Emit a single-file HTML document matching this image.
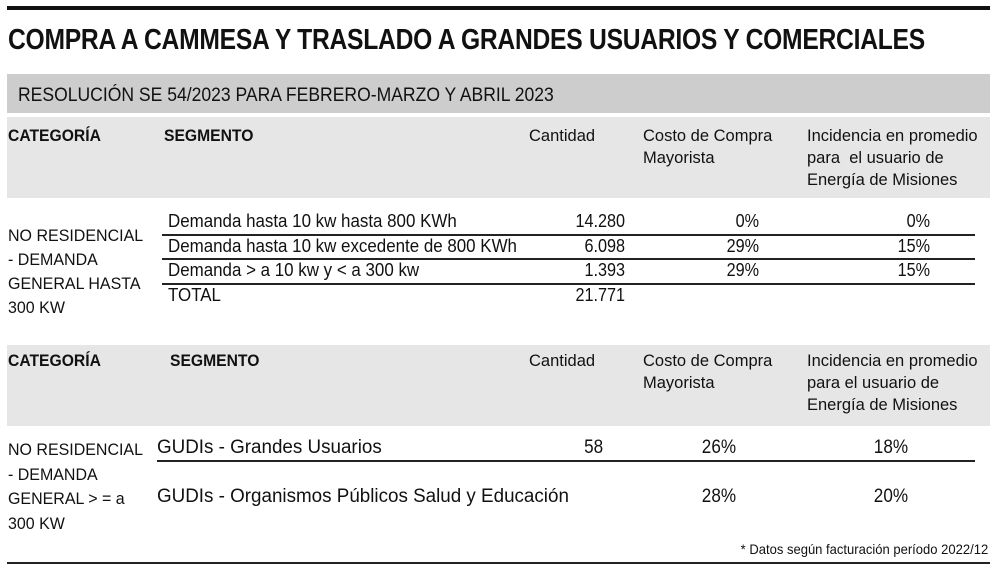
<!DOCTYPE html>
<html><head><meta charset="utf-8"><style>
body{margin:0;width:1000px;height:570px;background:#fff;position:relative;overflow:hidden;font-family:"Liberation Sans",sans-serif;color:#111}
.a{position:absolute;white-space:nowrap}
.c{transform-origin:0 0;}
.r{transform-origin:100% 0;text-align:right}
.b{font-weight:bold}
.ln{position:absolute;height:1.5px;background:#222}
.hdr{font-size:16.5px;line-height:22px}
.cell{font-size:18px}
</style></head><body>
<div class="a" style="left:7px;top:6px;width:983px;height:4px;background:#111"></div>
<div class="a b c" style="left:8px;top:24px;font-size:29px;transform:scaleX(0.85);letter-spacing:-0.3px">COMPRA A CAMMESA Y TRASLADO A GRANDES USUARIOS Y COMERCIALES</div>
<div class="a" style="left:7px;top:74px;width:983px;height:39px;background:#cdcdcd"></div>
<div class="a c" style="left:18px;top:84px;font-size:19.5px;transform:scaleX(0.9)">RESOLUCIÓN SE 54/2023 PARA FEBRERO-MARZO Y ABRIL 2023</div>
<div class="a" style="left:7px;top:117px;width:983px;height:81px;background:#e6e6e6"></div>
<div class="a" style="left:7px;top:345px;width:983px;height:81px;background:#e6e6e6"></div>

<div class="a b hdr c" style="left:8px;top:125px;transform:scaleX(0.95)">CATEGORÍA</div>
<div class="a b hdr c" style="left:164px;top:125px;transform:scaleX(0.95)">SEGMENTO</div>
<div class="a hdr" style="left:529px;top:125px">Cantidad</div>
<div class="a hdr" style="left:643px;top:125px">Costo de Compra<br>Mayorista</div>
<div class="a hdr" style="left:807px;top:125px">Incidencia en promedio<br>para &nbsp;el usuario de<br>Energía de Misiones</div>

<div class="a" style="left:8px;top:224px;font-size:16.5px;line-height:24px;transform:scaleX(0.97);transform-origin:0 0">NO RESIDENCIAL<br>- DEMANDA<br>GENERAL HASTA<br>300 KW</div>

<div class="a cell c" style="left:168px;top:211px;transform:scaleX(0.94)">Demanda hasta 10 kw hasta 800 KWh</div>
<div class="a cell c" style="left:168px;top:236px;transform:scaleX(0.94)">Demanda hasta 10 kw excedente de 800 KWh</div>
<div class="a cell c" style="left:168px;top:260px;transform:scaleX(0.94)">Demanda &gt; a 10 kw y &lt; a 300 kw</div>
<div class="a cell c" style="left:168px;top:285px;transform:scaleX(0.94)">TOTAL</div>
<div class="a cell r" style="right:375px;top:211px;transform:scaleX(0.9)">14.280</div>
<div class="a cell r" style="right:375px;top:236px;transform:scaleX(0.9)">6.098</div>
<div class="a cell r" style="right:375px;top:260px;transform:scaleX(0.9)">1.393</div>
<div class="a cell r" style="right:375px;top:285px;transform:scaleX(0.9)">21.771</div>
<div class="a cell r" style="right:241px;top:211px;transform:scaleX(0.9)">0%</div>
<div class="a cell r" style="right:241px;top:236px;transform:scaleX(0.9)">29%</div>
<div class="a cell r" style="right:241px;top:260px;transform:scaleX(0.9)">29%</div>
<div class="a cell r" style="right:70px;top:211px;transform:scaleX(0.9)">0%</div>
<div class="a cell r" style="right:70px;top:236px;transform:scaleX(0.9)">15%</div>
<div class="a cell r" style="right:70px;top:260px;transform:scaleX(0.9)">15%</div>
<div class="ln" style="left:162px;top:234px;width:813px"></div>
<div class="ln" style="left:162px;top:258px;width:813px"></div>
<div class="ln" style="left:162px;top:283px;width:813px"></div>

<div class="a b hdr c" style="left:8px;top:350px;transform:scaleX(0.95)">CATEGORÍA</div>
<div class="a b hdr c" style="left:170px;top:350px;transform:scaleX(0.95)">SEGMENTO</div>
<div class="a hdr" style="left:529px;top:350px">Cantidad</div>
<div class="a hdr" style="left:643px;top:350px">Costo de Compra<br>Mayorista</div>
<div class="a hdr" style="left:807px;top:350px">Incidencia en promedio<br>para el usuario de<br>Energía de Misiones</div>

<div class="a c" style="left:8px;top:438px;font-size:17px;line-height:24.5px;transform:scaleX(0.94)">NO RESIDENCIAL<br>- DEMANDA<br>GENERAL &gt; = a<br>300 KW</div>
<div class="a c" style="left:157px;top:437px;font-size:19px;transform:scaleX(0.99)">GUDIs - Grandes Usuarios</div>
<div class="a c" style="left:157px;top:486px;font-size:19px;transform:scaleX(0.99)">GUDIs - Organismos Públicos Salud y Educación</div>
<div class="a r" style="right:397px;top:437px;font-size:19px;transform:scaleX(0.9)">58</div>
<div class="a r" style="right:264px;top:437px;font-size:19px;transform:scaleX(0.9)">26%</div>
<div class="a r" style="right:264px;top:486px;font-size:19px;transform:scaleX(0.9)">28%</div>
<div class="a r" style="right:92px;top:437px;font-size:19px;transform:scaleX(0.9)">18%</div>
<div class="a r" style="right:92px;top:486px;font-size:19px;transform:scaleX(0.9)">20%</div>
<div class="ln" style="left:157px;top:460px;width:818px"></div>

<div class="a r" style="right:12px;top:541px;font-size:14px;transform:scaleX(0.93)">* Datos según facturación período 2022/12</div>
<div class="a" style="left:7px;top:562px;width:983px;height:2px;background:#222"></div>
</body></html>
